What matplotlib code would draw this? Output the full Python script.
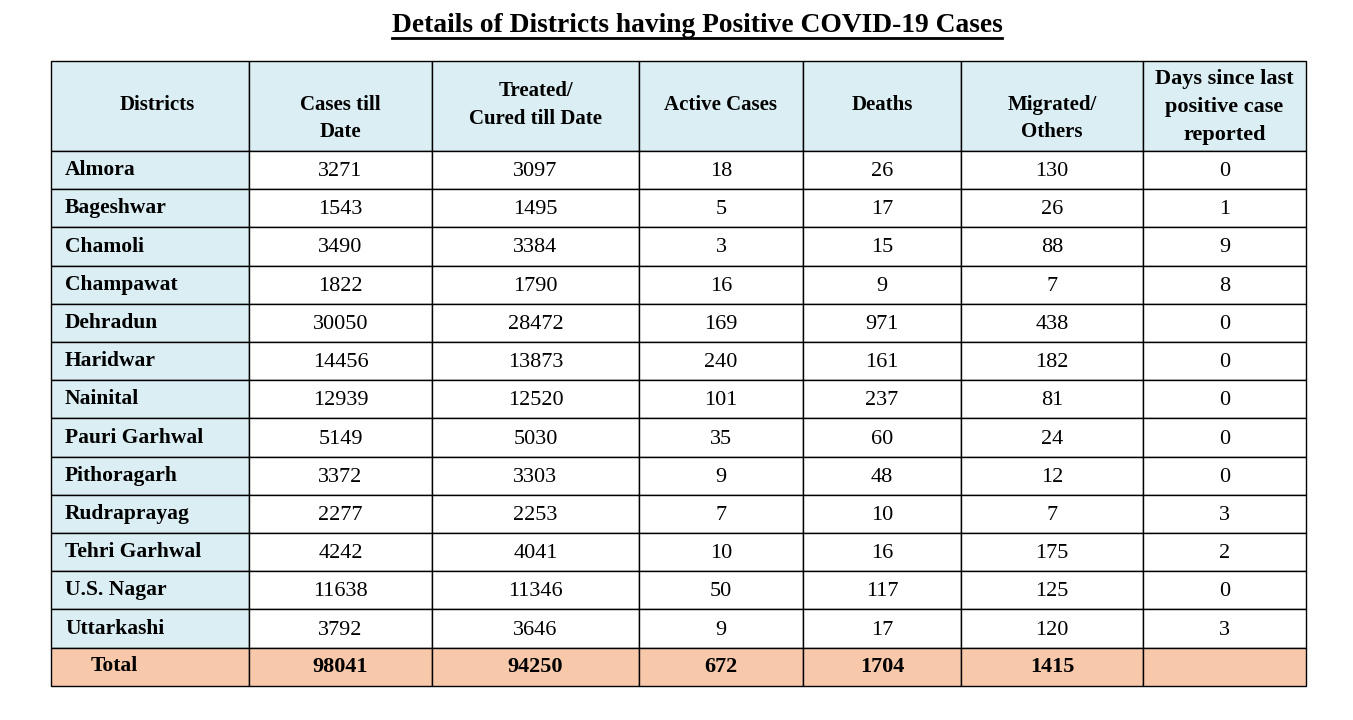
import matplotlib.pyplot as plt
from matplotlib.patches import Rectangle

plt.rcParams['font.family'] = ['Liberation Serif', 'DejaVu Serif']

title = "Details of Districts having Positive COVID-19 Cases"
headers = ["Districts", "Cases till\nDate", "Treated/\nCured till Date", "Active Cases",
           "Deaths", "Migrated/\nOthers", "Days since last\npositive case\nreported"]
districts = ["Almora", "Bageshwar", "Chamoli", "Champawat", "Dehradun", "Haridwar", "Nainital",
             "Pauri Garhwal", "Pithoragarh", "Rudraprayag", "Tehri Garhwal", "U.S. Nagar", "Uttarkashi"]
cases = [3271, 1543, 3490, 1822, 30050, 14456, 12939, 5149, 3372, 2277, 4242, 11638, 3792]
cured = [3097, 1495, 3384, 1790, 28472, 13873, 12520, 5030, 3303, 2253, 4041, 11346, 3646]
active = [18, 5, 3, 16, 169, 240, 101, 35, 9, 7, 10, 50, 9]
deaths = [26, 17, 15, 9, 971, 161, 237, 60, 48, 10, 16, 117, 17]
migrated = [130, 26, 88, 7, 438, 182, 81, 24, 12, 7, 175, 125, 120]
days_since = [0, 1, 9, 8, 0, 0, 0, 0, 0, 3, 2, 0, 3]
totals = [98041, 94250, 672, 1704, 1415, ""]

# layout in pixel units
col_edges = [51, 249, 432, 639, 803, 961, 1143, 1306]
header_top, header_bot = 61, 151
header_yc = [105, 118.5, 105, 105, 105, 118.5, 107]
row_h = 38.2

blue = "#DAEEF3"
peach = "#F7C8AA"

fig = plt.figure(figsize=(13.53, 7.2), dpi=100)
ax = fig.add_axes([0, 0, 1, 1])
ax.set_xlim(0, 1353)
ax.set_ylim(720, 0)
ax.axis("off")

# title with underline
t = ax.text(697, 25, title, ha="center", va="center", fontsize=19.8, fontweight="bold")
fig.canvas.draw()
bb = t.get_window_extent().transformed(ax.transData.inverted())
ax.plot([bb.x0, bb.x1], [37.5, 37.5], color="black", lw=2)

# header row
for i, h in enumerate(headers):
    x0, x1 = col_edges[i], col_edges[i + 1]
    ax.add_patch(Rectangle((x0, header_top), x1 - x0, header_bot - header_top,
                           facecolor=blue, edgecolor="black", lw=1))
    last = i == len(headers) - 1
    xc = (x0 + x1) / 2 + (7 if i == 0 else 0)
    ax.text(xc, header_yc[i], h, ha="center", va="center",
            fontsize=16 if last else 15, fontweight="bold",
            linespacing=1.55 if last else 1.5)

# body rows
columns = [cases, cured, active, deaths, migrated, days_since]
for r, name in enumerate(districts):
    y0 = header_bot + r * row_h
    ym = y0 + row_h / 2
    ax.add_patch(Rectangle((col_edges[0], y0), col_edges[1] - col_edges[0], row_h,
                           facecolor=blue, edgecolor="black", lw=1))
    ax.text(col_edges[0] + 14, ym, name, ha="left", va="center", fontsize=15.5, fontweight="bold")
    for c, vals in enumerate(columns):
        x0, x1 = col_edges[c + 1], col_edges[c + 2]
        ax.add_patch(Rectangle((x0, y0), x1 - x0, row_h, facecolor="white",
                               edgecolor="black", lw=1))
        ax.text((x0 + x1) / 2, ym + 1.5, str(vals[r]), ha="center", va="center", fontsize=16)

# total row
y0 = header_bot + len(districts) * row_h
ym = y0 + row_h / 2
ax.add_patch(Rectangle((col_edges[0], y0), col_edges[1] - col_edges[0], row_h,
                       facecolor=peach, edgecolor="black", lw=1))
ax.text(col_edges[0] + 40, ym - 1, "Total", ha="left", va="center", fontsize=15.5, fontweight="bold")
for c, v in enumerate(totals):
    x0, x1 = col_edges[c + 1], col_edges[c + 2]
    ax.add_patch(Rectangle((x0, y0), x1 - x0, row_h, facecolor=peach, edgecolor="black", lw=1))
    ax.text((x0 + x1) / 2, ym, str(v), ha="center", va="center", fontsize=16, fontweight="bold")

fig.savefig("out.png", dpi=100, facecolor="white")
